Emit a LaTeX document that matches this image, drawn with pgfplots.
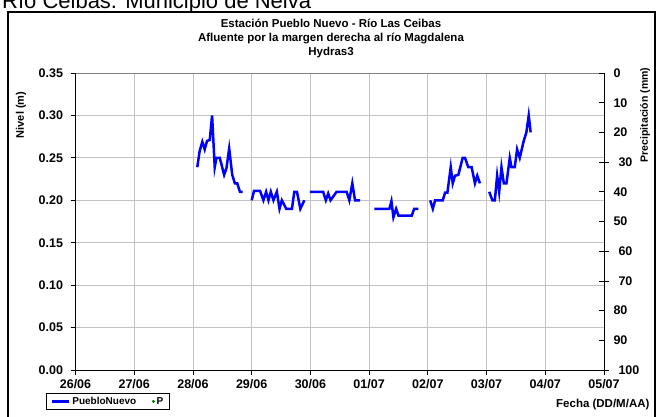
\documentclass[border=0pt]{standalone}
\usepackage{pgfplots}
\pgfplotsset{compat=1.18}
\usepackage{pgfplotstable}
\usepackage{fontspec}
\setmainfont{Liberation Sans}
\definecolor{gridgray}{RGB}{195,195,195}
\definecolor{pgreen}{RGB}{0,128,0}
\pgfplotstableread{
x y
2.074 0.239
2.114 0.258
2.160 0.269
2.200 0.260
2.240 0.270
2.286 0.271
2.326 0.300
2.371 0.239
2.400 0.250
2.457 0.250
2.531 0.230
2.571 0.238
2.617 0.261
2.669 0.230
2.714 0.220
2.754 0.220
2.800 0.210
2.846 0.210
2.900 nan
3.000 0.200
3.040 0.211
3.143 0.211
3.200 0.200
3.246 0.210
3.286 0.200
3.326 0.210
3.371 0.200
3.429 0.210
3.474 0.190
3.514 0.200
3.589 0.190
3.686 0.190
3.726 0.210
3.771 0.210
3.829 0.190
3.897 0.200
3.950 nan
3.990 0.210
4.217 0.210
4.263 0.200
4.303 0.208
4.343 0.200
4.446 0.210
4.617 0.210
4.663 0.200
4.714 0.220
4.760 0.200
4.846 0.200
4.950 nan
5.090 0.190
5.216 0.190
5.256 0.190
5.346 0.190
5.380 0.199
5.414 0.180
5.460 0.190
5.500 0.182
5.528 0.182
5.727 0.182
5.767 0.190
5.840 0.190
5.950 nan
6.040 0.200
6.085 0.190
6.124 0.200
6.254 0.200
6.294 0.209
6.333 0.209
6.390 0.239
6.424 0.220
6.463 0.229
6.520 0.230
6.593 0.250
6.633 0.250
6.689 0.239
6.746 0.239
6.802 0.220
6.842 0.229
6.887 0.220
6.950 nan
7.045 0.210
7.100 0.200
7.141 0.200
7.180 0.229
7.215 0.210
7.254 0.239
7.294 0.220
7.339 0.220
7.395 0.250
7.424 0.239
7.480 0.239
7.520 0.260
7.565 0.250
7.633 0.270
7.678 0.280
7.718 0.300
7.751 0.280
}\nivel
\begin{document}
\begin{tikzpicture}[x=1pt,y=1pt]
\begin{axis}[
  at={(75.5pt,46pt)}, anchor=south west,
  scale only axis, width=528.5pt, height=297pt,
  xmin=0, xmax=9, ymin=0, ymax=0.35,
  xtick={0,1,2,3,4,5,6,7,8,9},
  xticklabels={26/06,27/06,28/06,29/06,30/06,01/07,02/07,03/07,04/07,05/07},
  ytick={0,0.05,0.10,0.15,0.20,0.25,0.30,0.35},
  /pgf/number format/fixed,
  /pgf/number format/fixed zerofill,
  /pgf/number format/precision=2,
  /pgf/number format/assume math mode=true,
  ticklabel style={font=\fontsize{12.5}{14}\selectfont\bfseries},
  xticklabel style={yshift=-0.5pt},
  yticklabel style={xshift=-4pt},
  grid=major, major grid style={gridgray, line width=0.8pt},
  axis x line*=bottom, axis y line*=left,
  axis line style={black, line width=0.8pt},
  tick align=outside, major tick length=5pt,
  tick style={black, line width=0.8pt},
  unbounded coords=jump,
  legend columns=2,
  legend style={at={(-0.055,-0.078)}, anchor=north west, draw=black, line width=0.8pt,
    font=\fontsize{10}{11}\selectfont\bfseries, inner ysep=1.5pt, inner xsep=4pt,
    /tikz/every even column/.append style={column sep=14pt}},
  clip=false,
]
\addplot[blue, line width=2.5pt] table[x=x,y=y] {\nivel};
\addlegendentry{PuebloNuevo}
\addlegendimage{only marks, mark=*, mark size=1.1pt, pgreen}
\addlegendentry{P}
\draw[gray, line width=0.8pt] (axis cs:0,0.35) -- (axis cs:9,0.35);
\end{axis}
\begin{axis}[
  at={(75.5pt,46pt)}, anchor=south west,
  scale only axis, width=528.5pt, height=297pt,
  xmin=0, xmax=9, ymin=0, ymax=100, y dir=reverse,
  axis x line=none, axis y line*=right,
  axis line style={black, line width=0.8pt},
  ytick={0,10,20,40,50,80,90},
  extra y ticks={30,60,70,100},
  extra y tick style={tick align=center, major tick length=10pt},
  /pgf/number format/assume math mode=true,
  ticklabel style={font=\fontsize{12.5}{14}\selectfont\bfseries},
  yticklabel style={xshift=6pt},
  tick align=inside, major tick length=5pt,
  tick style={black, line width=0.8pt},
]
\end{axis}
\node[rotate=90, font=\fontsize{11}{12}\selectfont\bfseries] at (21,301) {Nivel (m)};
\node[rotate=90, font=\fontsize{10.5}{12}\selectfont\bfseries] at (645,301) {Precipitación (mm)};
\node[anchor=base east, font=\fontsize{11.5}{13}\selectfont\bfseries] at (653,9) {Fecha (DD/M/AA)};
\node[anchor=base, font=\fontsize{11.5}{13}\selectfont\bfseries] at (331,388) {Estación Pueblo Nuevo - Río Las Ceibas};
\node[anchor=base, font=\fontsize{11.5}{13}\selectfont\bfseries] at (331,374) {Afluente por la margen derecha al río Magdalena};
\node[anchor=base, font=\fontsize{11.5}{13}\selectfont\bfseries] at (331,360) {Hydras3};
\node[anchor=base west, font=\fontsize{22}{24}\selectfont, inner sep=0pt] at (2,407) {Río Ceibas. Municipio de Neiva};
\draw[black, line width=1.8pt] (8,-5) -- (8,404) -- (655,404) -- (655,-5);
\pgfresetboundingbox
\path[use as bounding box] (0,0) rectangle (658,416);
\end{tikzpicture}
\end{document}
